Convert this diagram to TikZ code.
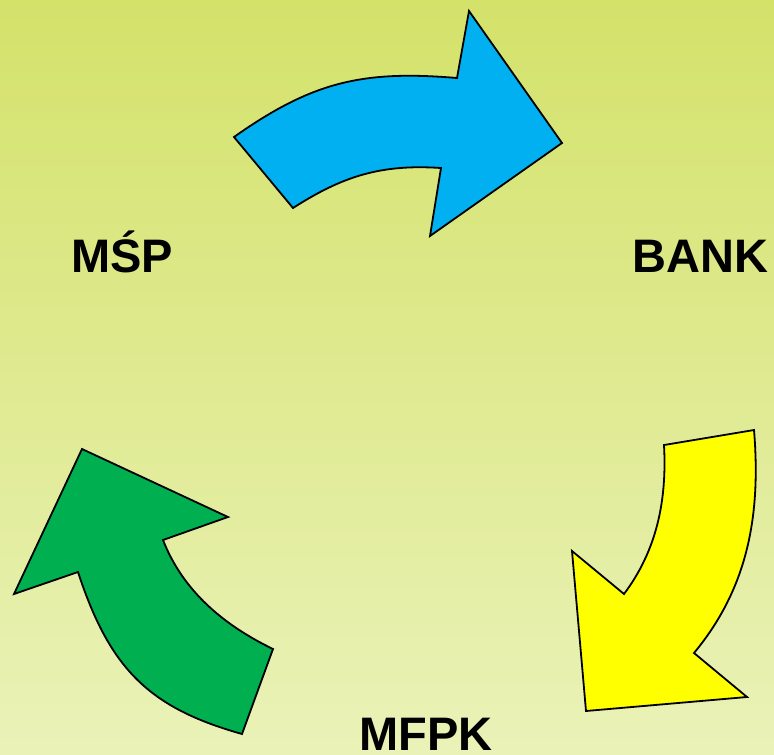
\documentclass[tikz,border=0pt]{standalone}
\usepackage{fontspec}
\setmainfont{Liberation Sans}
\definecolor{bgtop}{RGB}{212,226,106}
\definecolor{bgbot}{RGB}{234,242,184}
\definecolor{arrblue}{RGB}{0,176,240}
\definecolor{arryellow}{RGB}{255,255,0}
\definecolor{arrgreen}{RGB}{0,176,80}
\begin{document}
\begin{tikzpicture}[x=1pt,y=-1pt,
  arrowshape/.style={draw=black,line width=1.8pt,line join=miter},
  lbl/.style={inner sep=0pt,anchor=base west,font=\fontsize{47}{47}\selectfont\bfseries}]
\useasboundingbox (0,0) rectangle (774,755);
\shade[top color=bgtop,bottom color=bgbot] (0,0) rectangle (774,755);
% blue arrow
\draw[arrowshape,fill=arrblue]
  (234,137) .. controls (312,82) and (362,70) .. (457,78)
  -- (469,11) -- (562,143) -- (430,236) -- (441,168)
  .. controls (381,164) and (343,176) .. (293,208) -- cycle;
% yellow arrow
\draw[arrowshape,fill=arryellow]
  (664,445) -- (754,430)
  .. controls (761,515) and (748,588) .. (694,653)
  -- (747,697) -- (586,711) -- (572,551) -- (624,594)
  .. controls (657,550) and (667,500) .. (664,445) -- cycle;
% green arrow
\draw[arrowshape,fill=arrgreen]
  (242,734) -- (273,649)
  .. controls (223.5,625) and (183,591) .. (163,540)
  -- (228,517) -- (82,449) -- (14,594) -- (78,572)
  .. controls (110,670) and (150,708) .. (242,734) -- cycle;
% labels
\node[lbl] (msp) at (71,272) {MŚP};
\node[lbl] (bank) at (632,272) {BANK};
\node[lbl] (mfpk) at (359,750) {MFPK};
\end{tikzpicture}
\end{document}
